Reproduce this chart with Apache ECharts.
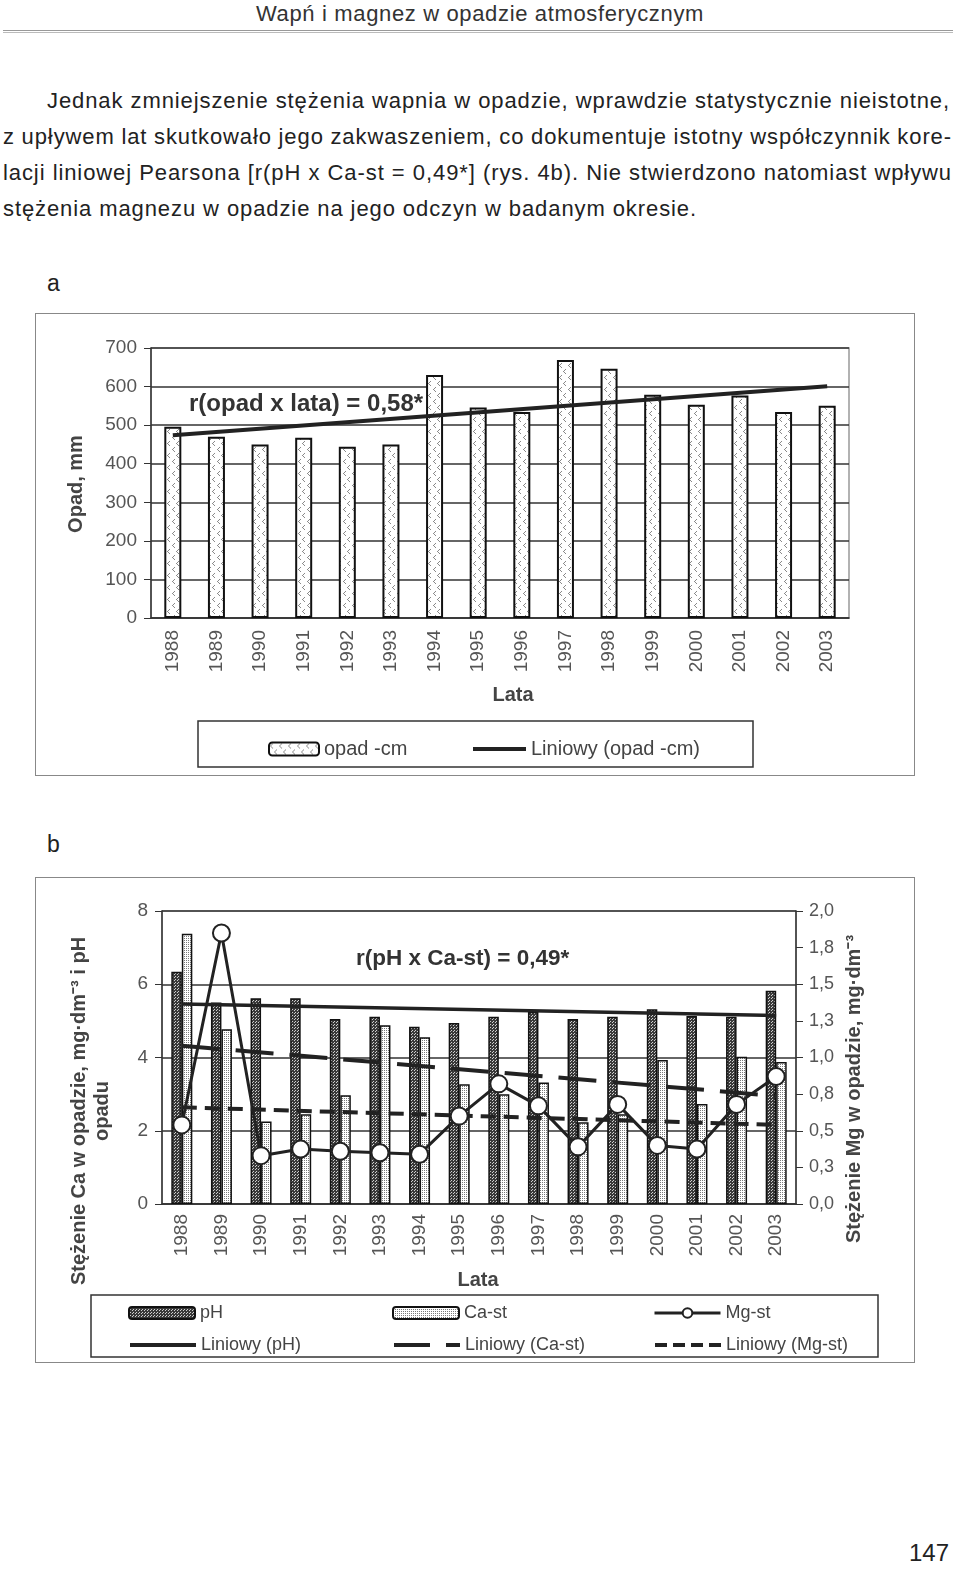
<!DOCTYPE html>
<html>
<head>
<meta charset="utf-8">
<script src="https://cdn.jsdelivr.net/npm/echarts@6/dist/echarts.min.js"></script>
<style>
  html, body { margin: 0; padding: 0; width: 960px; height: 1577px; overflow: hidden; background: #fff; }
  #page { position: relative; width: 960px; height: 1577px; overflow: hidden;
          font-family: "Liberation Sans", Arial, sans-serif; color: #222; }
  .hdr { position: absolute; left: 0; top: 0; width: 960px; height: 28px; line-height: 28px;
         text-align: center; font-size: 22px; color: #333; }
  .hdr span { white-space: nowrap; }
  .rule { position: absolute; left: 3px; top: 30px; width: 950px; height: 1px;
          border-top: 1px solid #999; border-bottom: 1px solid #bbb; }
  .ln { position: absolute; font-size: 22px; line-height: 36px; white-space: nowrap; }
  .lbl { position: absolute; left: 47px; font-size: 23px; line-height: 30px; }
  .box { position: absolute; left: 35px; width: 878px; border: 1px solid #888; }
  .pg { position: absolute; left: 909px; top: 1538px; font-size: 24px; line-height: 30px; }
</style>
</head>
<body>
<div id="page">
<div class="hdr"><span id="hdr">Wapń i magnez w opadzie atmosferycznym</span></div>
<div class="rule"></div>

<span class="ln" data-w="903" style="left:47px;top:83px">Jednak zmniejszenie stężenia wapnia w opadzie, wprawdzie statystycznie nieistotne,</span>
<span class="ln" data-w="949" style="left:3px;top:119px">z upływem lat skutkowało jego zakwaszeniem, co dokumentuje istotny współczynnik kore-</span>
<span class="ln" data-w="949" style="left:3px;top:155px">lacji liniowej Pearsona [r(pH x Ca-st = 0,49*] (rys. 4b). Nie stwierdzono natomiast wpływu</span>
<span class="ln last" data-w="694" style="left:3px;top:191px">stężenia magnezu w opadzie na jego odczyn w badanym okresie.</span>

<div class="lbl" style="top:268px">a</div>
<div id="chartA" class="box" style="top:313px;height:461px"></div>
<div class="lbl" style="top:829px">b</div>
<div id="chartB" class="box" style="top:877px;height:484px"></div>
<div class="pg">147</div>
</div>

<script>
// dane z wykresu
var years = ['1988', '1989', '1990', '1991', '1992', '1993', '1994', '1995',
             '1996', '1997', '1998', '1999', '2000', '2001', '2002', '2003'];
var opad = [496, 470, 450, 467, 444, 450, 630, 546, 534, 669, 646, 579, 553, 577, 534, 550];
var opadTrend = [474, 601];          // 1988 i 2003

var ph = [6.34, 5.5, 5.62, 5.62, 5.05, 5.11, 4.84, 4.94, 5.11, 5.25, 5.05, 5.11, 5.32, 5.13, 5.11, 5.82];
var caSt = [7.38, 4.77, 2.25, 2.45, 2.97, 4.88, 4.55, 3.27, 3.0, 3.32, 2.23, 2.45, 3.93, 2.73, 4.02, 3.88];
var mgSt = [0.54, 1.85, 0.33, 0.375, 0.36, 0.35, 0.34, 0.6, 0.82, 0.67, 0.39, 0.68, 0.40, 0.375, 0.68, 0.87];
var phTrend = [5.46, 5.15];
var caTrend = [4.32, 2.95];
var mgTrend = [0.66, 0.54];

var opadTicks = [0, 100, 200, 300, 400, 500, 600, 700];
var leftTicks = [0, 2, 4, 6, 8];
var mgTickLabels = ['0,0', '0,3', '0,5', '0,8', '1,0', '1,3', '1,5', '1,8', '2,0'];

var FONT = '"Liberation Sans", Arial, sans-serif';

// dopasowanie szerokości tekstu akapitu
(function () {
  var lines = document.querySelectorAll('.ln');
  var last = document.querySelector('.ln.last');
  var n = last.textContent.length;
  var ls = (694 - last.getBoundingClientRect().width) / n;
  lines.forEach(function (el) { el.style.letterSpacing = ls + 'px'; });
  lines.forEach(function (el) {
    if (el === last) return;
    var w = el.getBoundingClientRect().width;
    var sp = (el.textContent.match(/ /g) || []).length;
    el.style.wordSpacing = ((+el.dataset.w - w) / sp) + 'px';
  });
  var h = document.getElementById('hdr');
  var hw = h.getBoundingClientRect().width;
  h.style.letterSpacing = ((448 - hw) / h.textContent.length) + 'px';
})();

function tile(w, h, bg, fg, pts) {
  var c = document.createElement('canvas');
  c.width = w; c.height = h;
  var g = c.getContext('2d');
  g.fillStyle = bg; g.fillRect(0, 0, w, h);
  g.fillStyle = fg;
  pts.forEach(function (p) { g.fillRect(p[0], p[1], 1, 1); });
  return { image: c, repeat: 'repeat' };
}

var chevrons = tile(9, 12, '#fff', '#8a8a8a',
  [[3, 1], [2, 2], [1, 3], [2, 4], [3, 5], [7, 7], [6, 8], [5, 9], [6, 10], [7, 11]]);
var darkDots = tile(3, 3, '#3a3a3a', '#d0d0d0', [[0, 0], [1, 2]]);
var lightDots = tile(2, 2, '#fff', '#7a7a7a', [[0, 0]]);

var axisText = { color: '#555', fontSize: 19, fontFamily: FONT };
var legendText = { color: '#444', fontSize: 20, fontFamily: FONT };
var noSymbol = { opacity: 0 };

// ---------- wykres a ----------
var chartA = echarts.init(document.getElementById('chartA'));
chartA.setOption({
  animation: false,
  textStyle: { fontFamily: FONT },
  grid: { left: 115, right: 65, top: 34, bottom: 157, show: true,
          borderColor: '#999', borderWidth: 1.5 },
  xAxis: {
    type: 'category', data: years,
    axisLine: { lineStyle: { color: '#333', width: 1.5 } },
    axisTick: { length: 7, lineStyle: { color: '#333' } },
    axisLabel: Object.assign({ rotate: 90, margin: 12 }, axisText)
  },
  yAxis: {
    type: 'value', min: opadTicks[0], max: opadTicks[opadTicks.length - 1], interval: 100,
    axisLine: { show: true, lineStyle: { color: '#333', width: 1.5 } },
    axisTick: { show: true, length: 7, lineStyle: { color: '#333' } },
    axisLabel: Object.assign({ margin: 14 }, axisText),
    splitLine: { lineStyle: { color: '#333', width: 1.5 } }
  },
  legend: [
    { data: ['opad -cm'], left: 227, top: 420, itemWidth: 50, itemHeight: 13,
      selectedMode: false, textStyle: legendText },
    { data: ['Liniowy (opad -cm)'], left: 430, top: 420, itemWidth: 53, itemHeight: 13,
      selectedMode: false, textStyle: legendText, itemStyle: noSymbol,
      lineStyle: { width: 4, color: '#222' } }
  ],
  graphic: [
    { type: 'text', left: 153, top: 78, z: 10,
      style: { text: 'r(opad x lata) = 0,58*', font: 'bold 24px ' + FONT, fill: '#333' } },
    { type: 'text', x: 40, y: 170, rotation: Math.PI / 2,
      style: { text: 'Opad, mm', font: 'bold 20px ' + FONT, fill: '#444',
               align: 'center', verticalAlign: 'middle' } },
    { type: 'text', x: 477, y: 381,
      style: { text: 'Lata', font: 'bold 20px ' + FONT, fill: '#444',
               align: 'center', verticalAlign: 'middle' } },
    { type: 'rect', shape: { x: 162, y: 407, width: 555, height: 46 },
      style: { fill: 'none', stroke: '#333', lineWidth: 1.5 } }
  ],
  series: [
    { name: 'opad -cm', type: 'bar', data: opad, barWidth: 17,
      itemStyle: { color: chevrons, borderColor: '#111', borderWidth: 2 } },
    { name: 'Liniowy (opad -cm)', type: 'line', symbol: 'none', z: 5,
      data: [[years[0], opadTrend[0]], [years[years.length - 1], opadTrend[1]]],
      itemStyle: { color: '#222' },
      lineStyle: { color: '#222', width: 4 } }
  ]
});

// ---------- wykres b ----------
var chartB = echarts.init(document.getElementById('chartB'));
var legB = function (name, left, top, extra) {
  return Object.assign({ data: [name], left: left, top: top, itemWidth: 66, itemHeight: 12,
    selectedMode: false, textStyle: { color: '#444', fontSize: 18, fontFamily: FONT } }, extra || {});
};
var lastYear = years[years.length - 1];
chartB.setOption({
  animation: false,
  textStyle: { fontFamily: FONT },
  grid: { left: 126, right: 118, top: 33, bottom: 158, show: true,
          borderColor: '#999', borderWidth: 1.5 },
  xAxis: {
    type: 'category', data: years,
    axisLine: { lineStyle: { color: '#333', width: 1.5 } },
    axisTick: { length: 7, lineStyle: { color: '#333' } },
    axisLabel: Object.assign({ rotate: 90, margin: 10 }, axisText)
  },
  yAxis: [
    { type: 'value', min: leftTicks[0], max: leftTicks[leftTicks.length - 1], interval: 2,
      axisLine: { show: true, lineStyle: { color: '#333', width: 1.5 } },
      axisTick: { show: true, length: 7, lineStyle: { color: '#333' } },
      axisLabel: Object.assign({ margin: 14 }, axisText),
      splitLine: { lineStyle: { color: '#333', width: 1.5 } } },
    { type: 'value', position: 'right', min: 0, max: 2, interval: 0.25,
      axisLine: { show: true, lineStyle: { color: '#333', width: 1.5 } },
      axisTick: { show: true, length: 7, lineStyle: { color: '#333' } },
      axisLabel: Object.assign({ margin: 13, formatter: function (v) {
        return mgTickLabels[Math.round(v / 0.25)];
      } }, axisText, { fontSize: 18 }),
      splitLine: { show: false } }
  ],
  legend: [
    legB('pH', 87, 421), legB('Ca-st', 351, 421),
    legB('Mg-st', 612, 421, { lineStyle: { width: 3, color: '#222' } }),
    legB('Liniowy (pH)', 87, 453, { itemStyle: noSymbol, lineStyle: { width: 4, color: '#222' } }),
    legB('Liniowy (Ca-st)', 351, 453, { itemStyle: noSymbol,
      lineStyle: { width: 4, color: '#222', type: [36, 16] } }),
    legB('Liniowy (Mg-st)', 612, 453, { itemStyle: noSymbol,
      lineStyle: { width: 4, color: '#222', type: [12, 6] } })
  ],
  graphic: [
    { type: 'text', left: 320, top: 69, z: 10,
      style: { text: 'r(pH x Ca-st) = 0,49*', font: 'bold 22.5px ' + FONT, fill: '#333' } },
    { type: 'text', x: 55, y: 233, rotation: Math.PI / 2,
      style: { text: 'Stężenie Ca w opadzie, mg·dm⁻³ i pH\nopadu', font: 'bold 20px ' + FONT,
               fill: '#444', align: 'center', verticalAlign: 'middle', lineHeight: 23 } },
    { type: 'text', x: 818, y: 211, rotation: Math.PI / 2,
      style: { text: 'Stężenie Mg w opadzie, mg·dm⁻³', font: 'bold 20px ' + FONT,
               fill: '#444', align: 'center', verticalAlign: 'middle' } },
    { type: 'text', x: 442, y: 402,
      style: { text: 'Lata', font: 'bold 20px ' + FONT, fill: '#444',
               align: 'center', verticalAlign: 'middle' } },
    { type: 'rect', shape: { x: 55, y: 417, width: 787, height: 62 },
      style: { fill: 'none', stroke: '#333', lineWidth: 1.5 } }
  ],
  series: [
    { name: 'pH', type: 'bar', data: ph, barWidth: 10.5, barGap: '0%',
      itemStyle: { color: darkDots, borderColor: '#111', borderWidth: 1.5 } },
    { name: 'Ca-st', type: 'bar', data: caSt, barWidth: 10.5,
      itemStyle: { color: lightDots, borderColor: '#111', borderWidth: 1.5 } },
    { name: 'Liniowy (pH)', type: 'line', symbol: 'none', z: 4,
      data: [[years[0], phTrend[0]], [lastYear, phTrend[1]]],
      itemStyle: { color: '#222' },
      lineStyle: { color: '#222', width: 3.5 } },
    { name: 'Liniowy (Ca-st)', type: 'line', symbol: 'none', z: 4,
      data: [[years[0], caTrend[0]], [lastYear, caTrend[1]]],
      itemStyle: { color: '#222' },
      lineStyle: { color: '#222', width: 4, type: [38, 16] } },
    { name: 'Liniowy (Mg-st)', type: 'line', symbol: 'none', z: 4, yAxisIndex: 1,
      data: [[years[0], mgTrend[0]], [lastYear, mgTrend[1]]],
      itemStyle: { color: '#222' },
      lineStyle: { color: '#222', width: 4, type: [15, 8] } },
    { name: 'Mg-st', type: 'line', yAxisIndex: 1, z: 6, data: mgSt,
      symbol: 'circle', symbolSize: 17,
      lineStyle: { color: '#222', width: 3 },
      itemStyle: { color: '#fff', borderColor: '#222', borderWidth: 2 } }
  ]
});
</script>
</body>
</html>
